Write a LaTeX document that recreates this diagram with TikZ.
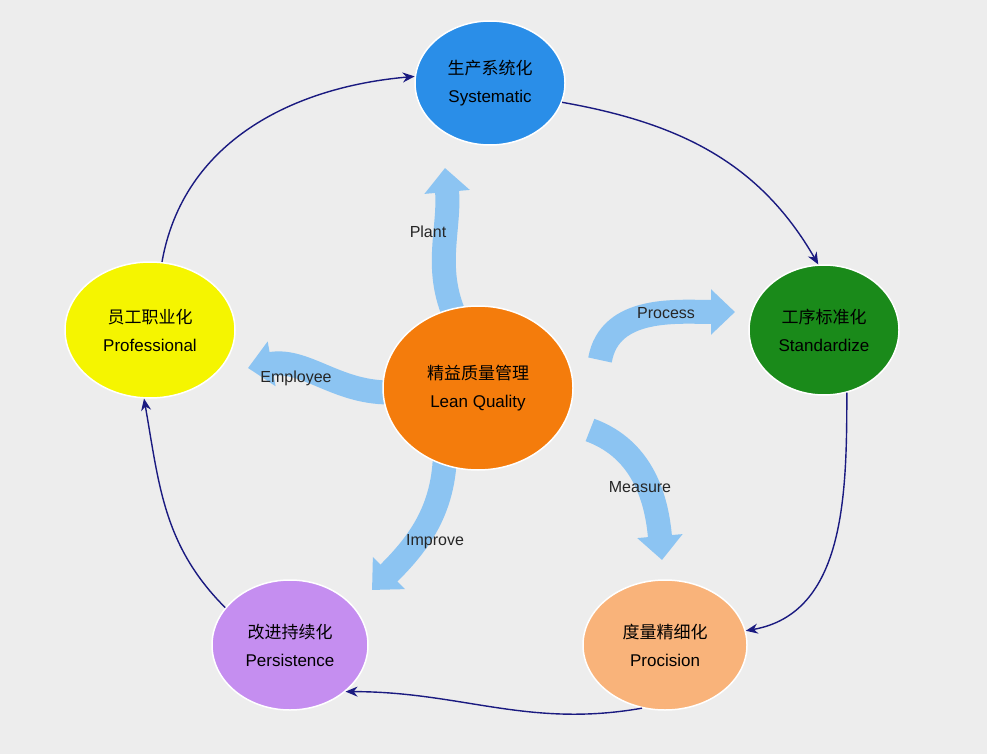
\documentclass[tikz,border=0pt]{standalone}
\usepackage{fontspec}
\setmainfont{Liberation Sans}
\newfontfamily\cjk{Noto Sans CJK SC}
\usetikzlibrary{shapes.geometric,arrows.meta}
\definecolor{bg}{HTML}{EDEDED}
\definecolor{navy}{HTML}{1A1A80}
\definecolor{fatblue}{RGB}{140,196,242}
\tikzset{
 blob/.style={ellipse,draw=white,line width=1.5pt,align=center,font=\fontsize{17}{28}\selectfont},
 outer/.style={navy,line width=1.4pt,-{Stealth[length=12pt,width=10pt]}},
 fat/.style={line width=24pt,color=fatblue,-{Triangle[length=24pt,width=44pt]}},
 lab/.style={font=\fontsize{16}{18}\selectfont,text=black!85}
}
\begin{document}
\begin{tikzpicture}[x=1pt,y=-1pt]
\fill[bg] (0,0) rectangle (987,754);
\useasboundingbox (0,0) rectangle (987,754);
% inner fat arrows (behind)
\draw[fat] (462,330) to[out=120,in=-85] (445,168);
\draw[fat] (600,360) to[out=80,in=180] (735,312);
\draw[fat] (590,430) to[out=-20,in=95] (662,560);
\draw[fat] (445,450) to[out=-90,in=45] (372,590);
\draw[fat] (400,392) to[out=185,in=10] (248,368);
\node[blob,fill={rgb,255:red,42;green,142;blue,232},minimum width=150pt,minimum height=124pt] (sys) at (490,83) {{\cjk 生产系统化}\\Systematic};
\node[blob,fill={rgb,255:red,26;green,138;blue,26},minimum width=150pt,minimum height=130pt] (std) at (824,330) {{\cjk 工序标准化}\\Standardize};
\node[blob,fill={rgb,255:red,249;green,179;blue,122},minimum width=164pt,minimum height=130pt] (pre) at (665,645) {{\cjk 度量精细化}\\Procision};
\node[blob,fill={rgb,255:red,197;green,142;blue,240},minimum width=156pt,minimum height=130pt] (per) at (290,645) {{\cjk 改进持续化}\\Persistence};
\node[blob,fill={rgb,255:red,245;green,245;blue,0},minimum width=170pt,minimum height=136pt] (pro) at (150,330) {{\cjk 员工职业化}\\Professional};
\node[blob,fill={rgb,255:red,244;green,124;blue,12},minimum width=190pt,minimum height=164pt] (cen) at (478,388) {{\cjk 精益质量管理}\\Lean Quality};
% outer cycle
\draw[outer] (sys.-15) to[out=-10,in=120] (std.95);
\draw[outer] (std.-70) to[out=-90,in=10] (pre.10);
\draw[outer] (pre.-110) to[out=-170,in=0] (per.-40);
\draw[outer] (per.150) to[out=135,in=-80] (pro.-95);
\draw[outer] (pro.80) to[out=80,in=185] (sys.175);
\node[lab] (lp) at (428,232) {Plant};
\node[lab] (lpr) at (666,313) {Process};
\node[lab] (lm) at (640,487) {Measure};
\node[lab] (li) at (435,542) {Improve};
\node[lab] (le) at (296,378) {Employee};
\end{tikzpicture}
\end{document}
